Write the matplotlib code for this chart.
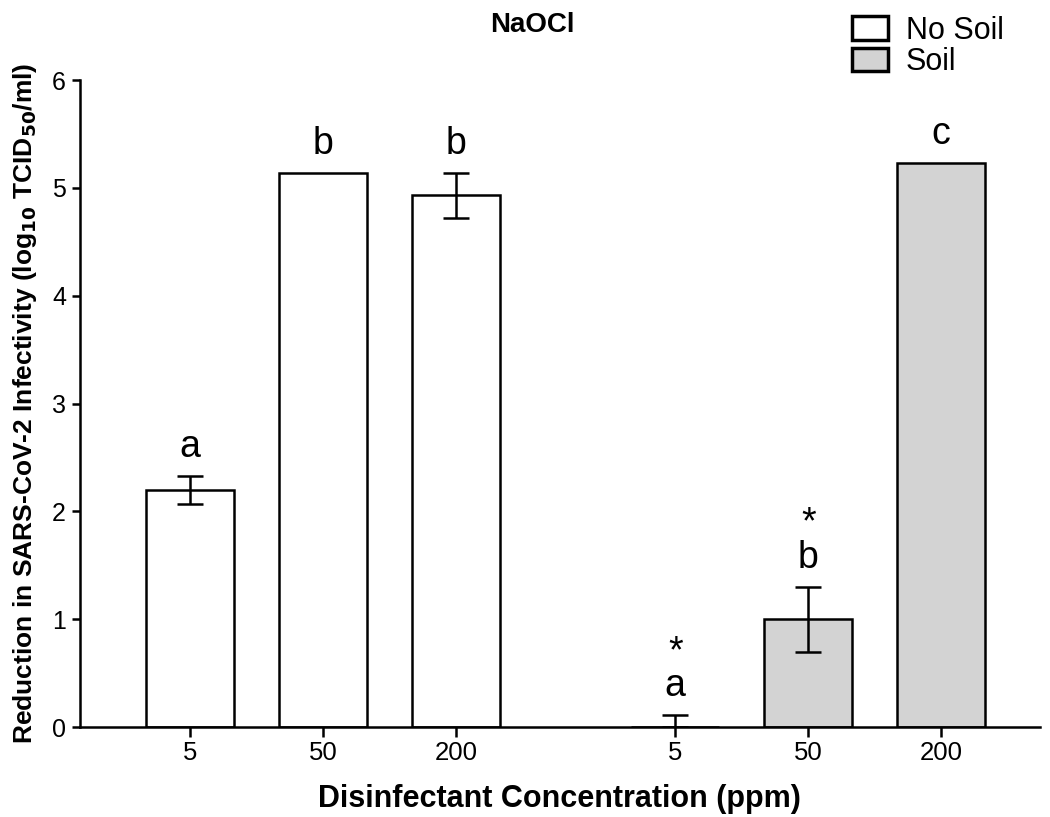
import numpy as np
import matplotlib
matplotlib.use("Agg")
import matplotlib.pyplot as plt
from matplotlib.patches import Patch

plt.rcParams["font.family"] = ["Liberation Sans", "DejaVu Sans"]

# data
conc_labels = ["5", "50", "200"]
no_soil_mean = [2.20, 5.14, 4.93]
no_soil_err = [0.13, 0.0, 0.21]
soil_mean = [0.0, 1.00, 5.23]
soil_err = [0.11, 0.30, 0.0]
no_soil_letters = ["a", "b", "b"]
soil_letters = ["*\na", "*\nb", "c"]

INK = "black"
GREY = "#d3d3d3"

fig = plt.figure(figsize=(10.5, 8.17), dpi=100)
ax = fig.add_axes([0.076, 0.110, 0.914, 0.792])

x_ns = np.arange(3)
x_s = np.arange(3) + 3.65
w = 0.66

ax.bar(x_ns, no_soil_mean, w, color="white", edgecolor=INK, lw=1.8, zorder=2)
ax.bar(x_s, soil_mean, w, color=GREY, edgecolor=INK, lw=1.8, zorder=2)
for xs, m, e in [(x_ns, no_soil_mean, no_soil_err), (x_s, soil_mean, soil_err)]:
    for xi, mi, ei in zip(xs, m, e):
        if ei > 0:
            # soil 5 ppm bar is zero: only the upper half shows
            lo = min(ei, mi)
            ax.errorbar(xi, mi, yerr=[[lo], [ei]], fmt="none", ecolor=INK,
                        elinewidth=1.8, capsize=9.5, capthick=1.8, zorder=3)

# significance letters (and * for soil vs no soil) above each bar
for xi, mi, ei, lab in zip(list(x_ns) + list(x_s),
                           no_soil_mean + soil_mean,
                           no_soil_err + soil_err,
                           no_soil_letters + soil_letters):
    ax.text(xi, mi + ei + 0.1, lab, ha="center", va="bottom", fontsize=27,
            linespacing=0.95)

ax.set_xlim(-0.83, 6.39)
ax.set_ylim(0, 6)
ax.set_xticks(list(x_ns) + list(x_s))
ax.set_xticklabels(conc_labels + conc_labels, fontsize=18.5)
ax.set_yticks(range(7))
ax.tick_params(axis="y", labelsize=18, width=1.8, length=6, pad=4)
ax.tick_params(axis="x", width=1.8, length=7, pad=3)
for s in ["top", "right"]:
    ax.spines[s].set_visible(False)
for s in ["left", "bottom"]:
    ax.spines[s].set_linewidth(1.8)

ax.set_xlabel("Disinfectant Concentration (ppm)", fontsize=22,
              fontweight="bold", labelpad=14)
ax.set_ylabel("Reduction in SARS-CoV-2 Infectivity (log$_{\\mathbf{10}}$ TCID$_{\\mathbf{50}}$/ml)",
              fontsize=19, fontweight="bold", labelpad=9)
fig.text(0.507, 0.970, "NaOCl", ha="center", va="center", fontsize=20,
         fontweight="bold")

handles = [Patch(facecolor="white", edgecolor=INK, lw=2.5, label="No Soil"),
           Patch(facecolor=GREY, edgecolor=INK, lw=2.5, label="Soil")]
fig.legend(handles=handles, loc="upper left", bbox_to_anchor=(0.811, 0.981),
           frameon=False, fontsize=22, handlelength=1.18, handleheight=0.82,
           handletextpad=0.6, labelspacing=0.05, borderpad=0, borderaxespad=0)

fig.savefig("out.png", dpi=100)
